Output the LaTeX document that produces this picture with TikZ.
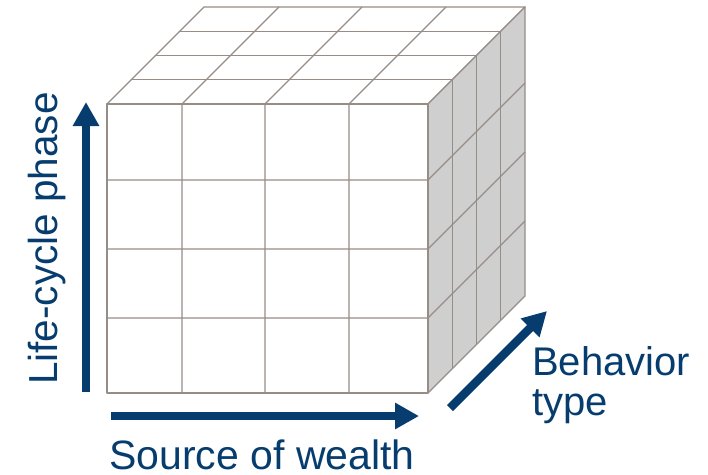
\documentclass[tikz,border=0pt]{standalone}
\usepackage{fontspec}
\setmainfont{Liberation Sans}
\usetikzlibrary{arrows.meta, positioning, calc}
\definecolor{cbnavy}{HTML}{063D6E}
\definecolor{cbgrid}{HTML}{978D87}
\definecolor{cbside}{HTML}{CFCFCF}

\begin{document}
\begin{tikzpicture}[x=1pt, y=-1pt,
  every node/.style={font=\fontsize{40}{40}\selectfont, text=cbnavy, inner sep=0pt},
  gridline/.style={draw=cbgrid, line width=1.3pt, line join=round},
  axis/.style={draw=cbnavy, line width=8.5pt, -{Triangle[length=24pt, width=25pt]}},
]
\useasboundingbox (0,0) rectangle (708,474);

% Cube corners (front face and its shifted back copy)
\coordinate (fnw) at (107,104);
\coordinate (fne) at (428,104);
\coordinate (fsw) at (107,393);
\coordinate (fse) at (428,393);
\coordinate (bnw) at ($(fnw)+(97,-97)$);
\coordinate (bne) at ($(fne)+(97,-97)$);
\coordinate (bse) at ($(fse)+(97,-97)$);

% Faces
\filldraw[gridline, fill=white] (fnw) -- (fne) -- (bne) -- (bnw) -- cycle;
\filldraw[gridline, fill=cbside] (fne) -- (bne) -- (bse) -- (fse) -- cycle;
\filldraw[gridline, fill=white] (fnw) rectangle (fse);

% Grid lines
\foreach \x in {182,265,349}
  \draw[gridline] (\x,393) -- (\x,104) -- ++(97,-97);
\foreach \y in {180,249,318}
  \draw[gridline] (107,\y) -- (428,\y) -- ++(97,-97);
\foreach \k in {1,2,3}
  \draw[gridline] ($(fnw)!\k/4!(bnw)$) -- ($(fne)!\k/4!(bne)$) -- ($(fse)!\k/4!(bse)$);

% Axes
\coordinate (lifefrom) at (86,392);
\coordinate (lifeto) at (86,102);
\coordinate (sourcefrom) at (111,416);
\coordinate (sourceto) at (419,416);
\coordinate (behavfrom) at (450,408);
\coordinate (behavto) at (547,311);
\draw[axis] (lifefrom) -- (lifeto);
\draw[axis] (sourcefrom) -- (sourceto);
\draw[axis] (behavfrom) -- (behavto);

% Labels
\node[rotate=90, anchor=base west, font=\fontsize{40.5}{40}\selectfont] (life) at (57,385) {Life-cycle phase};
\node[anchor=base west, font=\fontsize{41}{41}\selectfont] (source) at (109,469) {Source of wealth};
\node[anchor=base west, align=left] (behavior) at (532,415) {Behavior\\type};

\end{tikzpicture}
\end{document}
